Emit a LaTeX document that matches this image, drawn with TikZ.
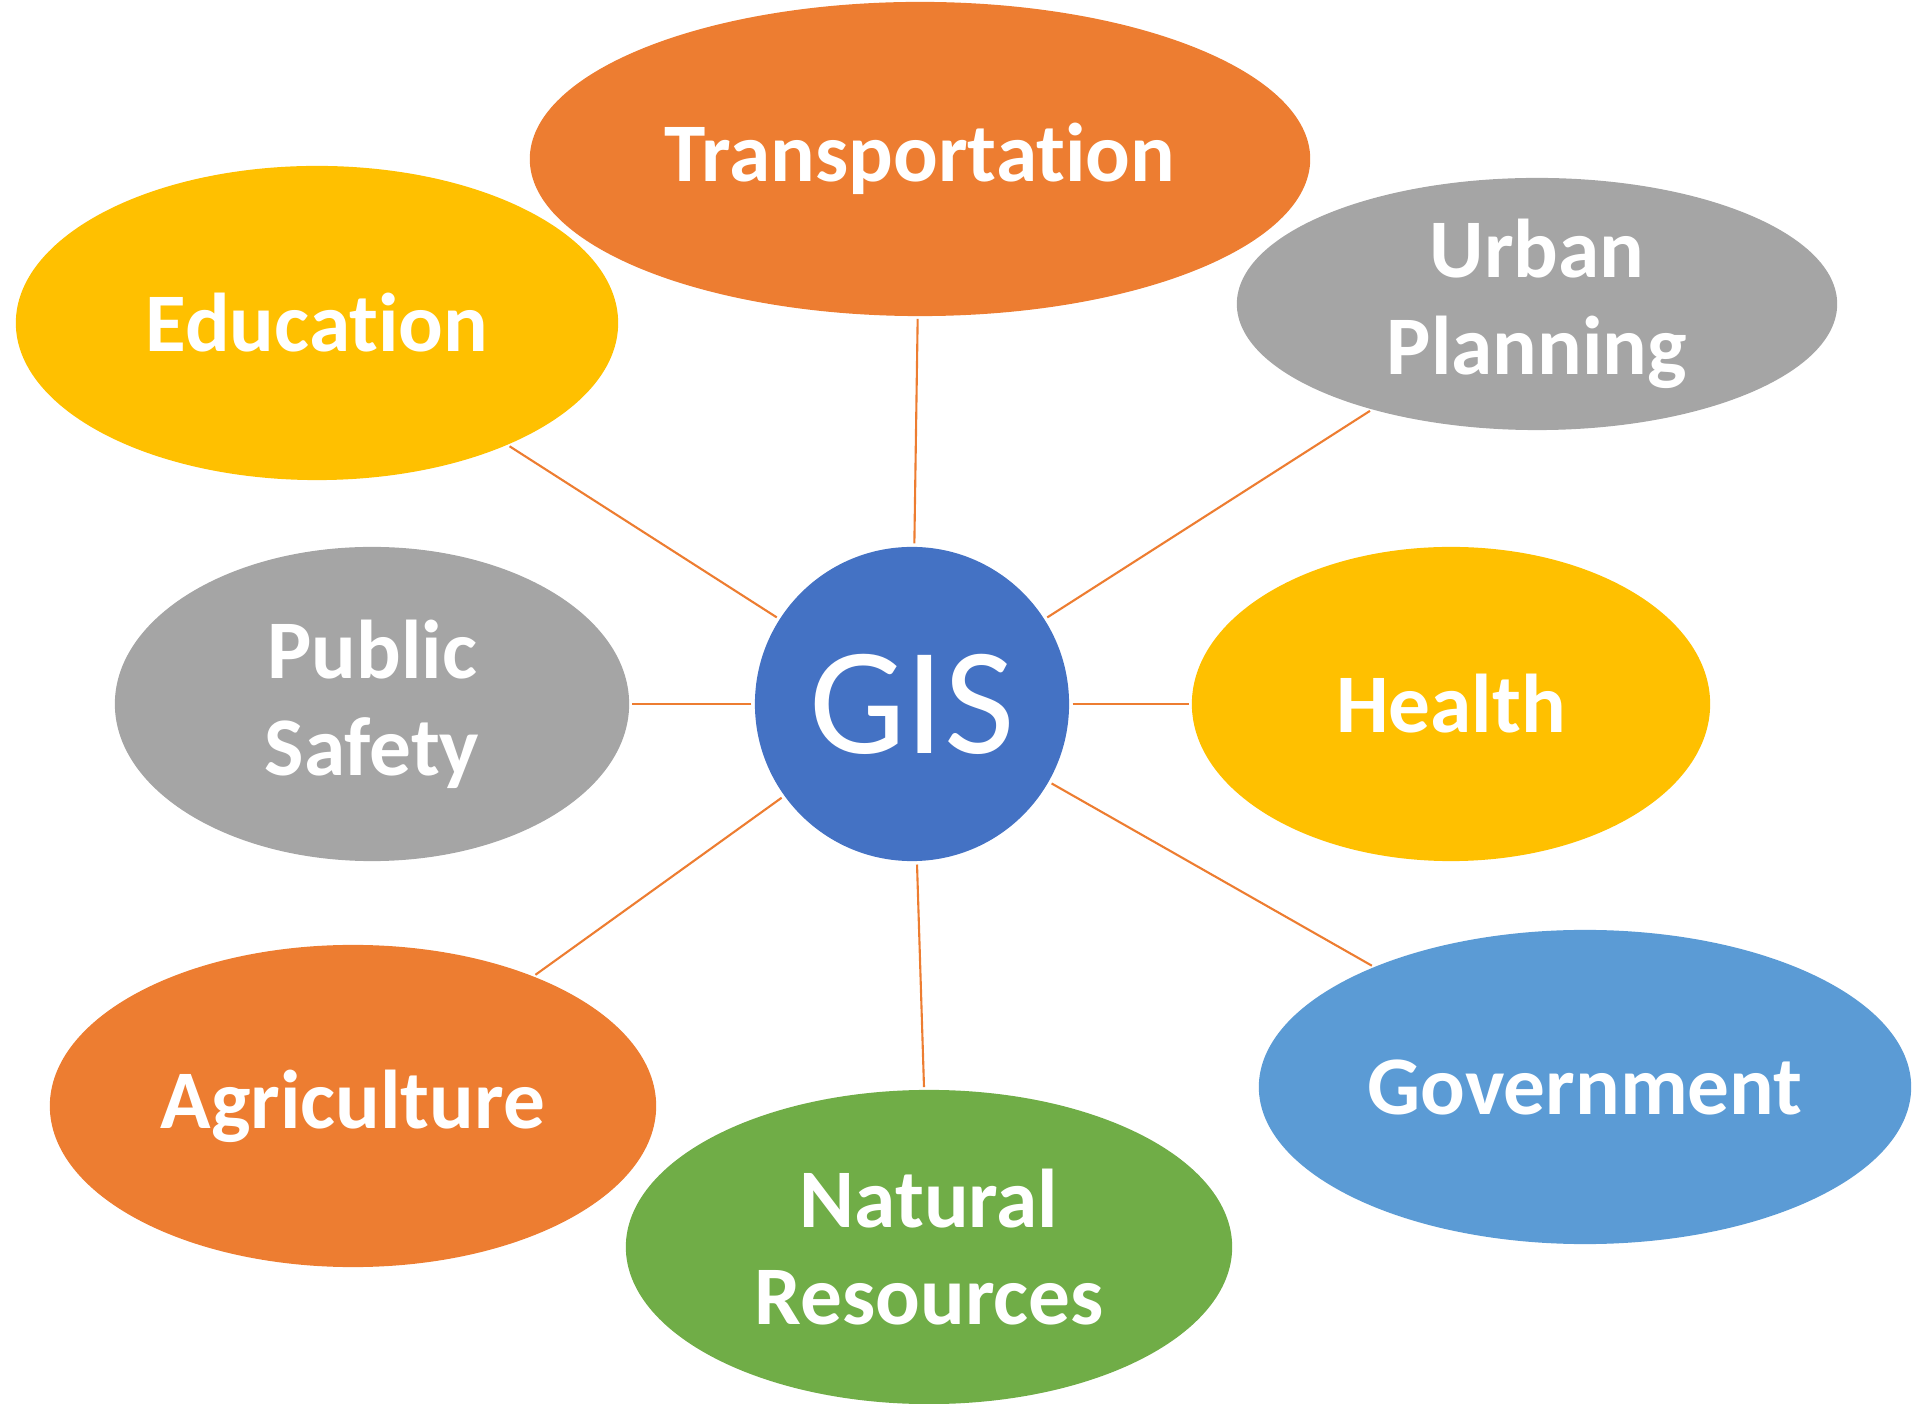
\documentclass[tikz,border=0pt]{standalone}
\usepackage{fontspec}
\setmainfont{Carlito}[Ligatures=NoCommon]
\usetikzlibrary{shapes.geometric}

\definecolor{gisorange}{HTML}{ED7D31}
\definecolor{gisgold}{HTML}{FFC000}
\definecolor{gisgray}{HTML}{A5A5A5}
\definecolor{gisgreen}{HTML}{70AD47}
\definecolor{gislight}{HTML}{5B9BD5}
\definecolor{gisblue}{HTML}{4472C4}

\begin{document}
\begin{tikzpicture}[x=0.01cm,y=-0.01cm]
		\tikzset{area/.style={ellipse,draw=none,inner sep=0pt,outer sep=0pt,text=white,align=center,
				font=\fontsize{23.7}{27.5}\selectfont\bfseries}};
		\tikzset{link/.style={draw=gisorange,line width=0.6pt,shorten <=0.8pt,shorten >=0.8pt}};
		
		\useasboundingbox (0,0) rectangle (1921,1404);
		
		\node (trans) at (920,159) [area,fill=gisorange,minimum width=7.80cm,minimum height=3.14cm]{Transportation};
		\node (edu) at (317,323) [area,fill=gisgold,minimum width=6.02cm,minimum height=3.14cm]{Education};
		\node (urban) at (1537,304) [area,fill=gisgray,minimum width=6.00cm,minimum height=2.52cm]{Urban\\Planning};
		\node (safety) at (372,704) [area,fill=gisgray,minimum width=5.14cm,minimum height=3.14cm]{Public\\Safety};
		\node (health) at (1451,704) [area,fill=gisgold,minimum width=5.18cm,minimum height=3.14cm]{Health};
		\node (agri) at (353,1106) [area,fill=gisorange,minimum width=6.06cm,minimum height=3.22cm]{Agriculture};
		\node (nat) at (929,1247) [area,fill=gisgreen,minimum width=6.06cm,minimum height=3.14cm]{Natural\\Resources};
		\node (gov) at (1585,1087) [area,fill=gislight,minimum width=6.52cm,minimum height=3.14cm]{Government};
		
		\node (gis) at (912,704) [circle,fill=gisblue,inner sep=0pt,minimum size=3.14cm,text=white,
			font=\fontsize{43.5}{48}\selectfont]{GIS};
		
		\foreach \n in {trans,edu,urban,safety,health,agri,nat,gov}
		\draw [link] (gis)--(\n);
		\end{tikzpicture}
\end{document}
